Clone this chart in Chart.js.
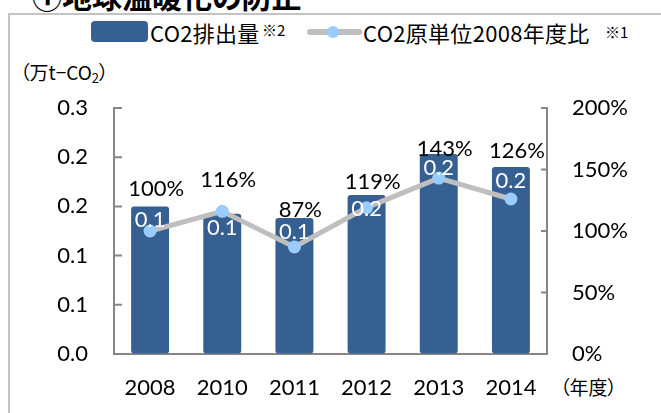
<!DOCTYPE html>
<html>
<head>
<meta charset="utf-8">
<script src="https://cdn.jsdelivr.net/npm/chart.js@4"></script>
<style>
  body { margin: 0; background: #fff; }
  #wrap { position: relative; width: 661px; height: 413px; overflow: hidden; font-family: "Noto Sans CJK JP", sans-serif; }
  #frame { position: absolute; left: 8px; top: 13px; width: 700px; height: 450px; border: 2px solid #c3c3c3; box-sizing: border-box; }
  #title { position: absolute; left: 32px; top: -27px; font-size: 30px; font-weight: bold; color: #000; white-space: nowrap; font-feature-settings: "palt"; }
  .lg { position: absolute; font-size: 22px; color: #000; white-space: nowrap; line-height: 1; letter-spacing: 0.3px; }
  .note { position: absolute; font-size: 15px; color: #000; line-height: 1; }
  #swatch { position: absolute; left: 91px; top: 21px; width: 57px; height: 21px; background: #376092; border-radius: 4px; }
  #lineSw { position: absolute; left: 307px; top: 29px; width: 55px; height: 6px; background: #bfbfbf; border-radius: 3px; }
  #dotSw { position: absolute; left: 327px; top: 26px; width: 12px; height: 12px; background: #99ccff; border-radius: 50%; }
  .unit { position: absolute; font-size: 19px; color: #000; white-space: nowrap; line-height: 1; font-feature-settings: "palt"; }
  canvas { position: absolute; left: 0; top: 0; }
</style>
</head>
<body>
<div id="wrap">
  <div id="frame"></div>
  <div id="title">①地球温暖化の防止</div>
  <div id="swatch"></div>
  <div class="lg" style="left:150px; top:21px;">CO2排出量</div>
  <div class="note" style="left:262px; top:22px;">※2</div>
  <div id="lineSw"></div>
  <div id="dotSw"></div>
  <div class="lg" style="left:363px; top:21px;">CO2原単位2008年度比</div>
  <div class="note" style="left:605px; top:24px;">※1</div>
  <div class="unit" style="left:20px; top:62px;">（万t−CO<span style="font-size:13px; vertical-align:-3px;">2</span>）</div>
  <div class="unit" style="left:560px; top:377px;">（年度）</div>
  <canvas id="co2Chart" width="661" height="413"></canvas>
</div>
<script>
const years = ["2008", "2010", "2011", "2012", "2013", "2014"];
const co2Amount = [0.180, 0.171, 0.166, 0.194, 0.244, 0.228];
const co2Labels = ["0.1", "0.1", "0.1", "0.2", "0.2", "0.2"];
const ratioPct = [100, 116, 87, 119, 143, 126];
const leftTicks = [0, 0.06, 0.12, 0.18, 0.24, 0.3];
const rightTicks = [0, 50, 100, 150, 200];

// how far above each point the % label sits (hand placed in the original)
const pctLift = [42, 31, 37, 26, 29, 48];

const numFont = { family: "Lato", size: 22 };

// value labels + inner tick marks
const labelPlugin = {
  id: "labels",
  afterDatasetsDraw(chart) {
    const ctx = chart.ctx;
    ctx.save();
    ctx.font = "22px Lato";
    ctx.textAlign = "center";
    ctx.textBaseline = "middle";

    const bars = chart.getDatasetMeta(1).data;
    ctx.fillStyle = "#fff";
    bars.forEach((b, i) => {
      ctx.fillText(co2Labels[i], b.x, b.y + 14);
    });

    const pts = chart.getDatasetMeta(0).data;
    ctx.fillStyle = "#000";
    pts.forEach((p, i) => {
      ctx.fillText(ratioPct[i] + "%", p.x + 6, p.y - pctLift[i]);
    });

    // ticks pointing inward
    const a = chart.chartArea;
    ctx.strokeStyle = "#868686";
    ctx.lineWidth = 2;
    ctx.beginPath();
    chart.scales.y.ticks.forEach((t) => {
      const yy = chart.scales.y.getPixelForValue(t.value);
      ctx.moveTo(a.left, yy);
      ctx.lineTo(a.left + 8, yy);
    });
    chart.scales.y1.ticks.forEach((t) => {
      const yy = chart.scales.y1.getPixelForValue(t.value);
      ctx.moveTo(a.right - 6, yy);
      ctx.lineTo(a.right, yy);
    });
    ctx.stroke();
    ctx.restore();
  },
};

const config = {
  type: "bar",
  data: {
    labels: years,
    datasets: [
      {
        type: "line",
        label: "CO2原単位2008年度比",
        data: ratioPct,
        yAxisID: "y1",
        borderColor: "#bfbfbf",
        borderWidth: 5,
        pointRadius: 6.5,
        pointBackgroundColor: "#99ccff",
        pointBorderWidth: 0,
        tension: 0,
        order: 0,
      },
      {
        label: "CO2排出量",
        data: co2Amount,
        yAxisID: "y",
        backgroundColor: "#376092",
        borderRadius: 3,
        borderSkipped: false,
        categoryPercentage: 1,
        barPercentage: 0.526,
        order: 1,
      },
    ],
  },
  options: {
    responsive: false,
    animation: false,
    layout: { padding: { top: 108, left: 0, right: 0, bottom: 0 } },
    plugins: {
      legend: { display: false },
      tooltip: { enabled: false },
    },
    scales: {
      x: {
        grid: { display: false },
        border: { color: "#868686", width: 2 },
        ticks: { font: numFont, color: "#000", padding: 13, maxRotation: 0 },
        afterFit: (s) => { s.height = 59; },
      },
      y: {
        position: "left",
        min: 0,
        max: 0.3,
        grid: { drawOnChartArea: false, drawTicks: false },
        border: { color: "#868686", width: 2 },
        ticks: {
          font: numFont,
          color: "#000",
          padding: 26,
          callback: (v) => v.toFixed(1),
        },
        afterBuildTicks: (s) => { s.ticks = leftTicks.map((v) => ({ value: v })); },
        afterFit: (s) => { s.width = 114; },
      },
      y1: {
        position: "right",
        min: 0,
        max: 200,
        grid: { drawOnChartArea: false, drawTicks: false },
        border: { color: "#868686", width: 2 },
        ticks: {
          font: numFont,
          color: "#000",
          padding: 25,
          callback: (v) => v + "%",
        },
        afterBuildTicks: (s) => { s.ticks = rightTicks.map((v) => ({ value: v })); },
        afterFit: (s) => { s.width = 114; },
      },
    },
  },
  plugins: [labelPlugin],
};

let myChart = new Chart(document.getElementById("co2Chart"), config);
</script>
</body>
</html>
